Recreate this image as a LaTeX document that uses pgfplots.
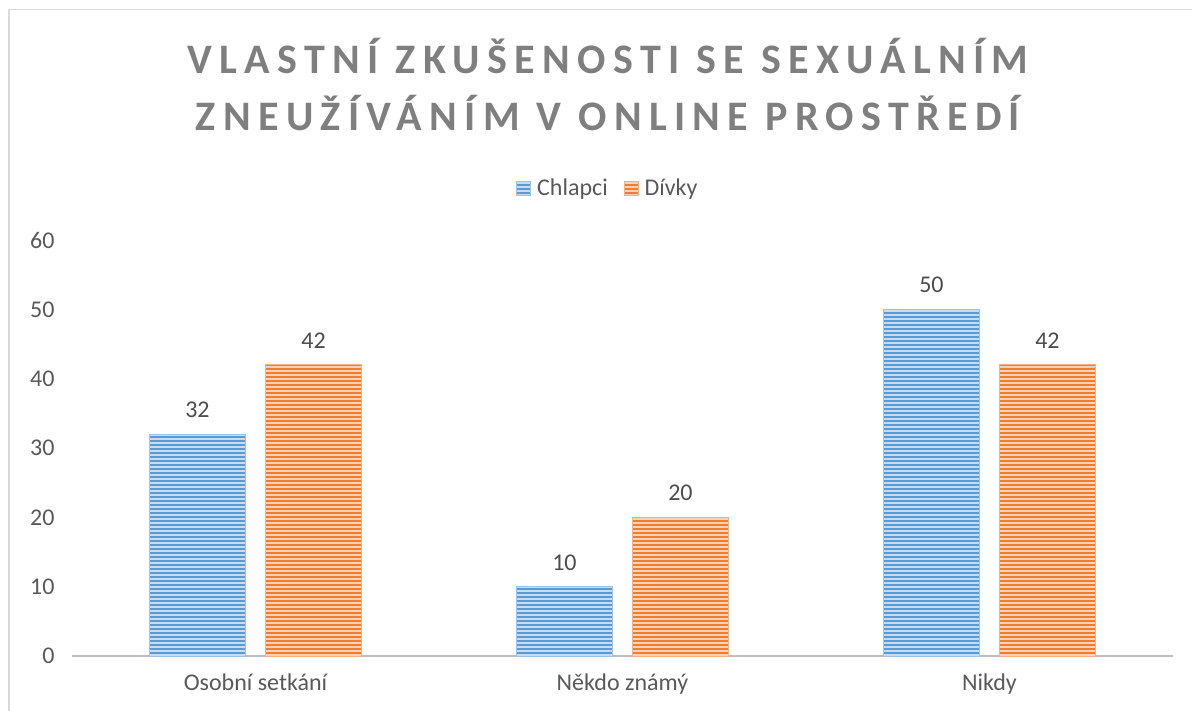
\documentclass[border=0pt]{standalone}
\usepackage{pgfplots}
\pgfplotsset{compat=1.18}
\usepackage{fontspec}
\setmainfont{Carlito}
\newfontfamily\titlefont[LetterSpace=17.5]{Carlito}
\usetikzlibrary{patterns.meta}
\definecolor{cblue}{HTML}{5B9BD5}
\definecolor{corange}{HTML}{ED7D31}
\definecolor{ctxt}{HTML}{595959}
\definecolor{ctitle}{HTML}{7F7F7F}
\begin{document}
\begin{tikzpicture}
\useasboundingbox (0,0) rectangle (1192bp,-711bp);
\draw[draw=black!15, line width=1.5bp] (9bp,-711bp) -- (9bp,-9.5bp) -- (1192bp,-9.5bp);
\node[font={\titlefont\fontsize{42bp}{52bp}\bfseries}, text=ctitle, anchor=base] at (608bp,-73bp) {VLASTNÍ ZKUŠENOSTI SE SEXUÁLNÍM};
\node[font={\titlefont\fontsize{42bp}{52bp}\bfseries}, text=ctitle, anchor=base] at (608bp,-130bp) {ZNEUŽÍVÁNÍM V ONLINE PROSTŘEDÍ};
\begin{axis}[
  at={(72bp,-656bp)}, anchor=south west,
  scale only axis, width=1101bp, height=416bp,
  ybar=20bp, bar width=96bp,
  xmin=-0.5, xmax=2.5, ymin=0, ymax=60,
  xtick=data, xticklabels={Osobní setkání, Někdo známý, Nikdy},
  ytick={0,10,...,60},
  major tick length=0pt,
  axis x line=bottom, axis y line=left,
  x axis line style={-, draw=black!25, line width=2bp},
  y axis line style={draw=none},
  tick label style={font=\fontsize{24bp}{28bp}\selectfont, text=ctxt},
  yticklabel style={xshift=-14bp},
  xticklabel style={yshift=-14bp},
  /pgf/number format/assume math mode=true,
  nodes near coords,
  every node near coord/.append style={font=\fontsize{24bp}{28bp}\selectfont, text=ctxt!85!black, inner sep=0pt, anchor=south, yshift=16bp},
  legend style={at={(0.4868,1.125)}, anchor=center, draw=none, fill=none, legend columns=2,
    font=\fontsize{24bp}{28bp}\selectfont, text=ctxt,
    /tikz/every odd column/.append style={column sep=4bp},
    /tikz/every even column/.append style={column sep=14bp}},
  legend image code/.code={\fill[#1] (-4bp,-7bp) rectangle (10bp,7bp);},
]
\addplot[fill=cblue, draw=cblue!60!white, line width=0.8bp,
  postaction={pattern={Lines[angle=0,distance=4bp,line width=1.5bp]}, pattern color=cblue!35!white}]
  coordinates {(0,32) (1,10) (2,50)};
\addplot[fill=corange, draw=corange!60!white, line width=0.8bp,
  postaction={pattern={Lines[angle=0,distance=4bp,line width=1.5bp]}, pattern color=corange!35!white}]
  coordinates {(0,42) (1,20) (2,42)};
\legend{Chlapci, Dívky}
\end{axis}
\end{tikzpicture}
\end{document}
